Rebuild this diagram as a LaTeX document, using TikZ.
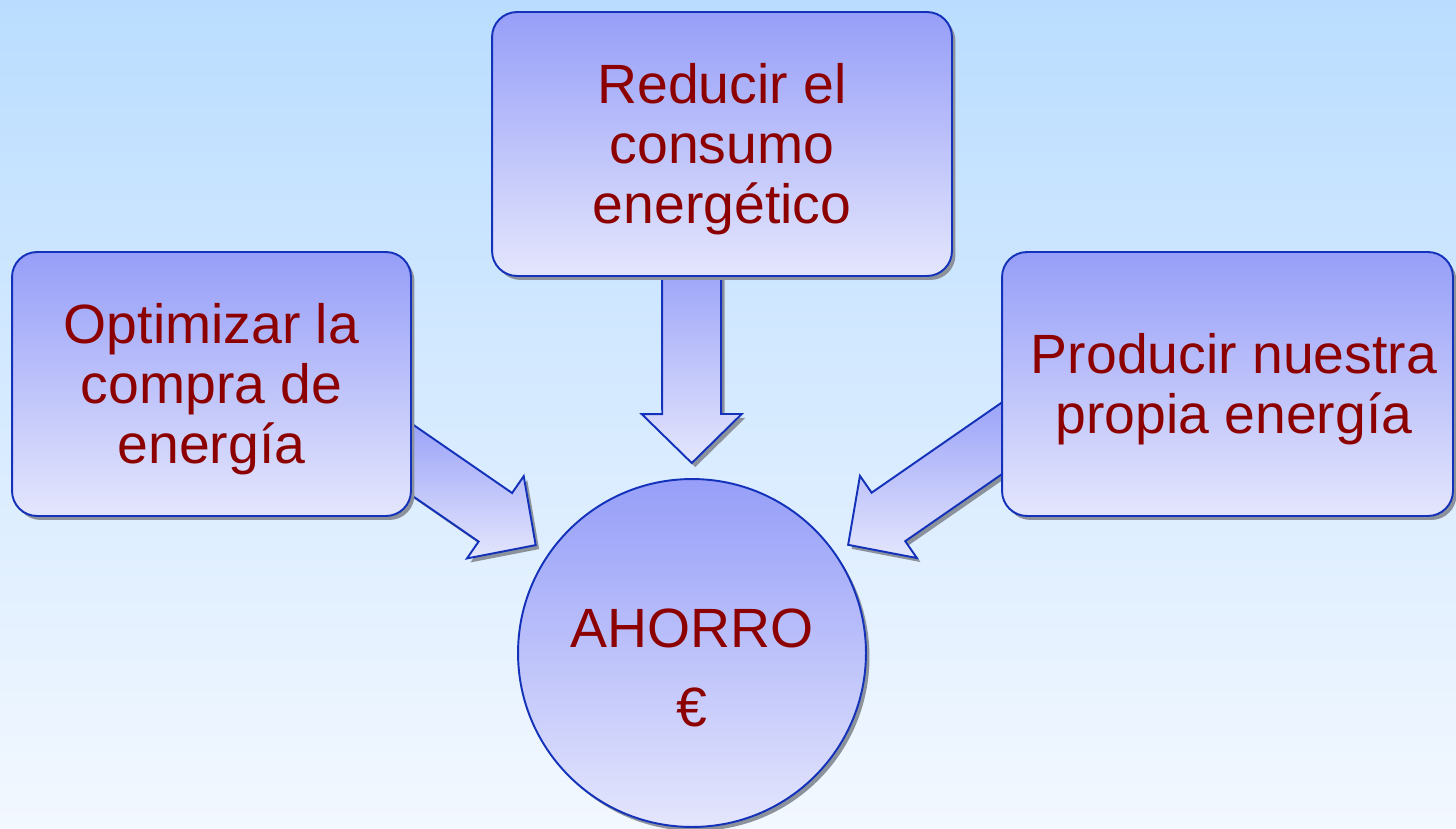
\documentclass[tikz,border=0pt]{standalone}
\usepackage{fontspec}
\setmainfont{Liberation Sans}
\usetikzlibrary{calc,shadows}

\definecolor{bgtop}{RGB}{186,221,255}
\definecolor{bgbot}{RGB}{243,248,255}
\definecolor{shapetop}{RGB}{150,158,248}
\definecolor{shapebot}{RGB}{228,230,252}
\definecolor{edgeblue}{RGB}{20,50,185}
\definecolor{shadowgray}{RGB}{140,146,156}
\definecolor{textred}{RGB}{140,0,0}

\tikzset{
	shapefill/.style={draw=edgeblue, line width=1.1pt, top color=shapetop, bottom color=shapebot,
		drop shadow={shadow xshift=0.07cm, shadow yshift=-0.08cm, fill=shadowgray, opacity=1}},
	boxtext/.style={text=textred, align=center, font=\fontsize{31.5}{34}\selectfont},
	goalbox/.style={shapefill, rectangle, rounded corners=0.5cm, minimum height=5.28cm},
	blockarrow/.style={shapefill, to path={
		let \p1=(\tikztostart), \p2=($(\tikztotarget)!3.8cm!(\tikztostart)$),
			\n1={atan2(\y2-\y1,\x2-\x1)} in
		($(\p1)+(\n1+90:0.59cm)$) -- ($(\p2)+(\n1+180:0.98cm)+(\n1+90:0.59cm)$)
		-- ($(\p2)+(\n1+180:0.98cm)+(\n1+90:1cm)$) -- (\p2)
		-- ($(\p2)+(\n1+180:0.98cm)+(\n1-90:1cm)$) -- ($(\p2)+(\n1+180:0.98cm)+(\n1-90:0.59cm)$)
		-- ($(\p1)+(\n1-90:0.59cm)$) -- cycle}}
}

\begin{document}
\begin{tikzpicture}[x=0.02cm, y=-0.02cm]
	\useasboundingbox (0,0) rectangle (1456,828);
	\fill[top color=bgtop, bottom color=bgbot] (0,0) rectangle (1456,828);

	% goal in the middle
	\node[shapefill, circle, minimum size=6.96cm, inner sep=0pt,
		label={[boxtext, yshift=-0.3cm]center:AHORRO\\[0.38cm]€}]
		(ahorro) at (692,653) {};

	% arrows start under the boxes
	\coordinate (reducir-out) at (691.5,250);
	\coordinate (optimizar-out) at (379,437);
	\coordinate (producir-out) at (1037,414);
	\foreach \from in {reducir-out, optimizar-out, producir-out} {
		\draw[blockarrow] (\from) to (ahorro.center);
	}

	\node[goalbox, minimum width=9.2cm,
		label={[boxtext, yshift=-0.1cm]center:Reducir el\\consumo\\energético}] (reducir) at (722,144) {};
	\node[goalbox, minimum width=7.98cm,
		label={[boxtext, yshift=-0.1cm]center:Optimizar la\\compra de\\energía}] (optimizar) at (211.5,384) {};
	\node[goalbox, minimum width=9.02cm,
		label={[boxtext, yshift=-0.1cm, xshift=0.13cm]center:Producir nuestra\\propia energía}] (producir) at (1227.5,384) {};
\end{tikzpicture}
\end{document}
